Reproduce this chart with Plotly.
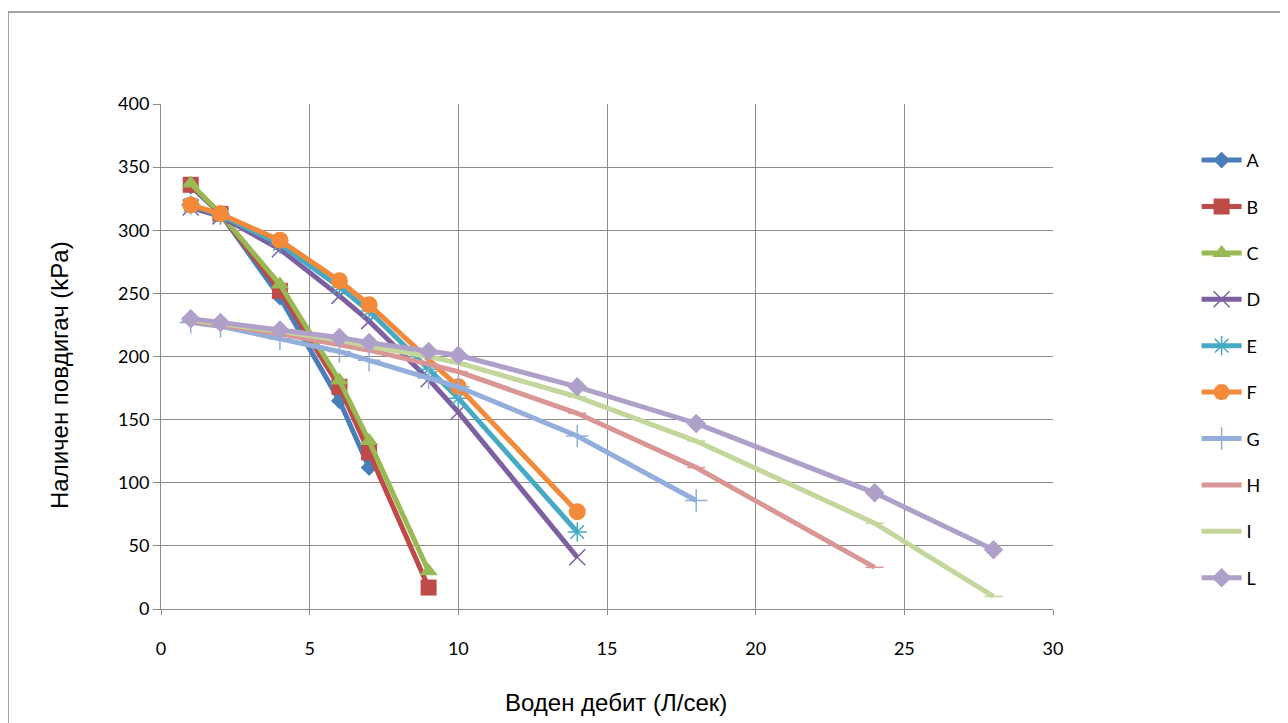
import plotly.graph_objects as go

names = ["A", "B", "C", "D", "E", "F", "G", "H", "I", "L"]

x_A = [1, 2, 4, 6, 7]
y_A = [335, 313, 247, 165, 112]
x_B = [1, 2, 4, 6, 7, 9]
y_B = [336, 313, 252, 176, 124, 17]
x_C = [1, 2, 4, 6, 7, 9]
y_C = [337, 313, 257, 181, 133, 30]
x_D = [1, 2, 4, 6, 7, 9, 10, 14]
y_D = [318, 311, 285, 248, 228, 182, 156, 41]
x_E = [1, 2, 4, 6, 7, 9, 10, 14]
y_E = [320, 312, 289, 255, 236, 190, 167, 61]
x_F = [1, 2, 4, 6, 7, 10, 14]
y_F = [320, 313, 292, 260, 241, 176, 77]
x_G = [1, 2, 4, 6, 7, 9, 10, 14, 18]
y_G = [227, 224, 214, 204, 197, 183, 176, 137, 86]
x_H = [1, 2, 4, 6, 7, 9, 10, 14, 18, 24]
y_H = [228, 225, 218, 210, 205, 194, 188, 155, 112, 33]
x_I = [1, 2, 4, 6, 7, 9, 10, 14, 18, 24, 28]
y_I = [229, 226, 220, 213, 208, 200, 195, 168, 133, 68, 10]
x_L = [1, 2, 4, 6, 7, 9, 10, 14, 18, 24, 28]
y_L = [230, 227, 221, 215, 211, 204, 201, 176, 147, 92, 47]

xs = [x_A, x_B, x_C, x_D, x_E, x_F, x_G, x_H, x_I, x_L]
ys = [y_A, y_B, y_C, y_D, y_E, y_F, y_G, y_H, y_I, y_L]

x_ticks = [0, 5, 10, 15, 20, 25, 30]
y_ticks = [0, 50, 100, 150, 200, 250, 300, 350, 400]

x_title = "Воден дебит (Л/сек)"
y_title = "Наличен повдигач (kPa)"

colors = ["#4A7EBB", "#BE4B48", "#98B954", "#7D60A0", "#46AAC5", "#F38A3A",
          "#93AEDA", "#D99694", "#C3D69B", "#AFA0C9"]
symbols = ["diamond", "square", "triangle-up", "x-thin-open", "asterisk-open",
           "circle", "cross-thin-open", "line-ew-open", "line-ew-open", "diamond"]
sizes = [13, 16, 16, 16, 16, 17, 16, 13, 13, 15]

fig = go.Figure()
for i in range(len(names)):
    sym = symbols[i]
    open_sym = sym.endswith("open")
    fig.add_trace(go.Scatter(
        x=xs[i], y=ys[i], name=names[i], mode="lines+markers",
        legendgroup=names[i], legendrank=i + 1,
        line=dict(color=colors[i], width=5),
        marker=dict(symbol=sym, size=sizes[i], color=colors[i],
                    line=dict(color=colors[i], width=1.5 if open_sym else 0)),
    ))

title_font = dict(size=24, family="Liberation Sans, Arial, sans-serif", color="#000000")

# page body has an 8px margin, so the figure is offset by 8px
fig.update_layout(
    width=1280, height=715,
    paper_bgcolor="white", plot_bgcolor="white",
    margin=dict(l=153, r=235, t=96, b=114),
    font=dict(family="Lato, Liberation Sans, sans-serif", size=18, color="#000000"),
    legend=dict(x=1.161, y=0.925, xanchor="left", yanchor="top",
                tracegroupgap=20, font=dict(size=18, family="Lato, sans-serif"),
                itemwidth=40, bgcolor="rgba(0,0,0,0)", maxheight=700),
    shapes=[dict(type="rect", xref="paper", yref="paper",
                 x0=(8 - 161) / 892, x1=1.6, y0=-0.6, y1=(609 - 12) / 505,
                 line=dict(color="#868686", width=1.5), fillcolor="rgba(0,0,0,0)",
                 layer="below")],
    annotations=[
        dict(text=x_title, xref="paper", yref="paper", x=0.510, y=-0.186,
             xanchor="center", yanchor="middle", showarrow=False, font=title_font),
        dict(text=y_title, xref="paper", yref="paper", x=-0.1132, y=0.4634,
             xanchor="center", yanchor="middle", showarrow=False, textangle=-90,
             font=title_font),
    ],
)
fig.update_xaxes(range=[0, 30], tickvals=x_ticks, showgrid=True, gridcolor="#8C8C8C",
                 gridwidth=1, showline=True, linecolor="#8C8C8C", linewidth=1,
                 ticks="outside", ticklen=5, tickcolor="#8C8C8C", zeroline=False,
                 ticklabelstandoff=18,
                 tickfont=dict(size=18, family="Lato, sans-serif"))
fig.update_yaxes(range=[0, 400], tickvals=y_ticks, showgrid=True, gridcolor="#8C8C8C",
                 gridwidth=1, showline=True, linecolor="#8C8C8C", linewidth=1,
                 ticks="outside", ticklen=7, tickcolor="#8C8C8C", zeroline=False,
                 tickfont=dict(size=18, family="Lato, sans-serif"))

fig.write_html("out.html")
